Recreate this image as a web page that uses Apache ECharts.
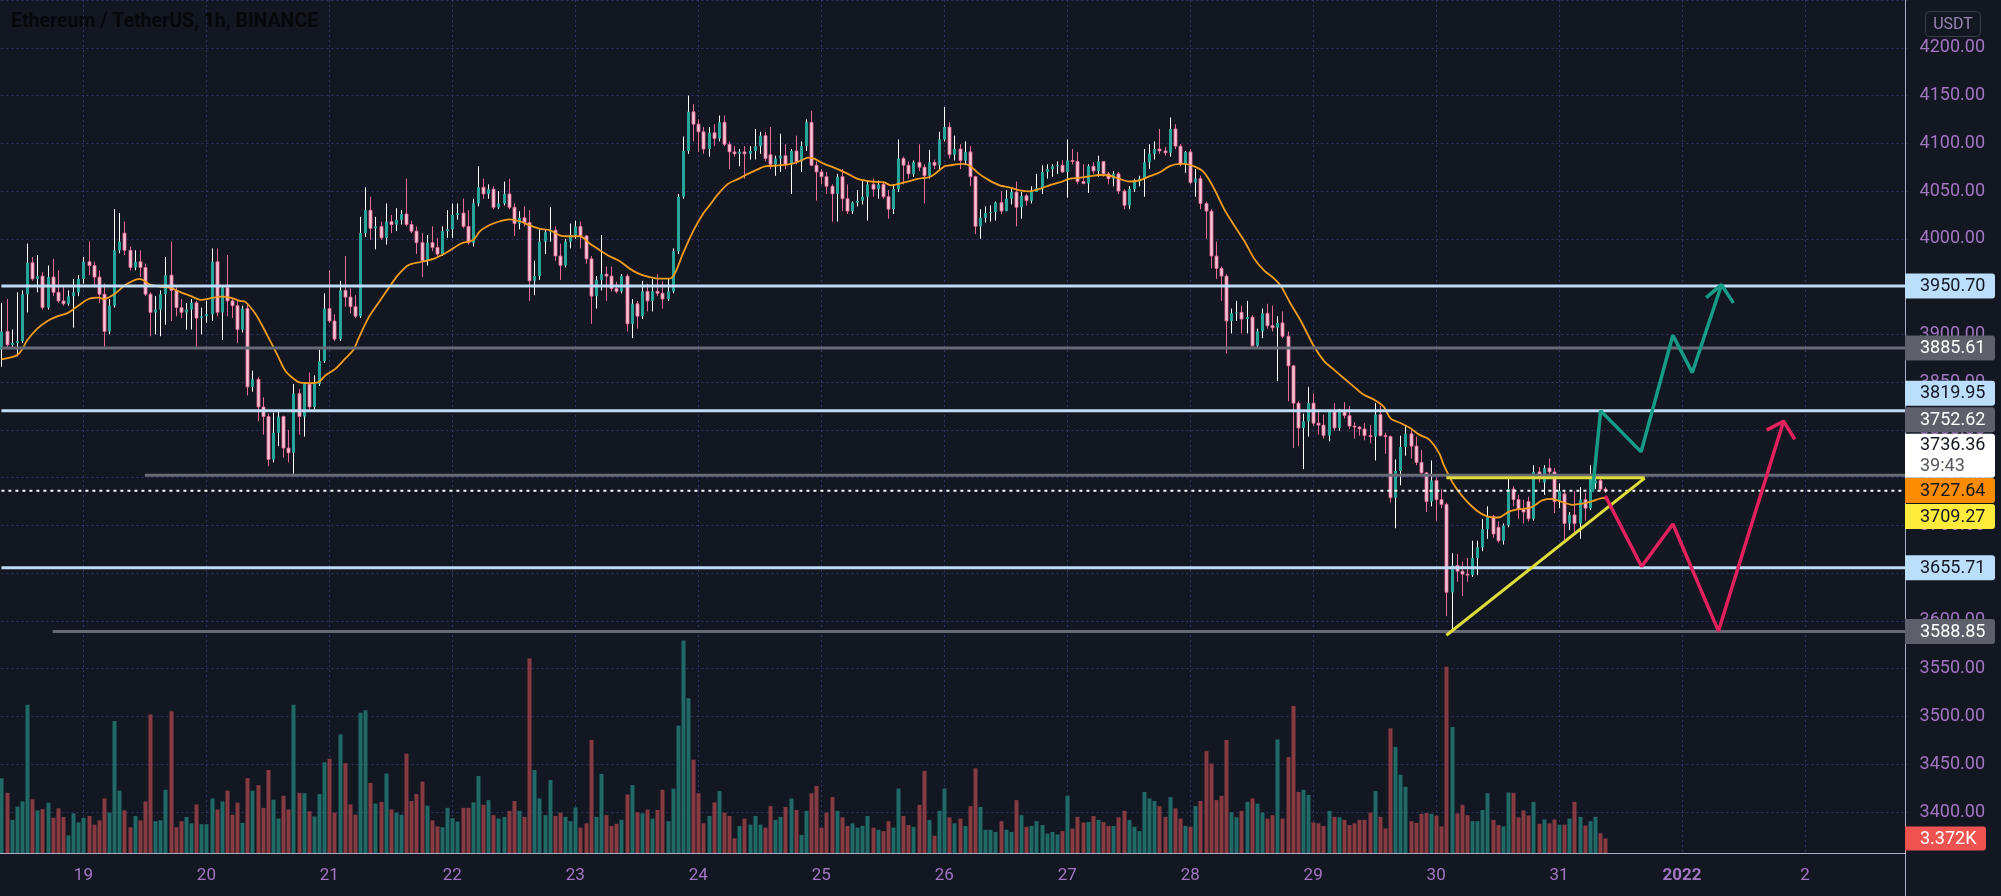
<!DOCTYPE html>
<html>
<head>
<meta charset="utf-8">
<title>Ethereum / TetherUS, 1h, BINANCE</title>
<script src="https://cdn.jsdelivr.net/npm/echarts@6/dist/echarts.min.js"></script>
<style>
html,body{margin:0;padding:0;background:#131722;overflow:hidden}
#chart{width:2001px;height:896px}
</style>
</head>
<body>
<div id="chart"></div>
<script>
// ================= DATA =================
const startTime = '2021-12-18T08:00:00Z';   // first hourly candle
const axisSlots = 373;                        // hourly slots on the time axis (0..372)
const titleText = 'Ethereum / TetherUS, 1h, BINANCE';
const currencyText = 'USDT';

// hourly candles: [open, high, low, close]
const ohlc = [
[3884,3933,3866,3903],[3903,3937,3887,3889],[3889,3905,3887,3891],[3891,3944,3877,3893],[3893,3946,3891,3942],[3942,3995,3923,3975],[3975,3981,3956,3958],[3958,3983,3944,3961],[3961,3965,3926,3928],[3928,3972,3926,3960],
[3960,3979,3940,3944],[3944,3967,3933,3935],[3935,3951,3930,3932],[3932,3946,3930,3940],[3940,3958,3907,3944],[3944,3962,3940,3958],[3958,3981,3953,3976],[3976,3997,3962,3972],[3972,3976,3949,3960],[3960,3967,3933,3942],
[3942,3953,3887,3903],[3903,3937,3900,3930],[3930,4031,3928,3988],[3988,4027,3985,3997],[4006,4018,3983,3988],[3988,3992,3967,3970],[3970,3988,3967,3976],[3976,3988,3960,3970],[3970,3974,3940,3942],[3942,3944,3898,3923],
[3923,3940,3900,3926],[3926,3946,3898,3942],[3942,3981,3910,3962],[3962,3997,3914,3946],[3946,3949,3919,3928],[3928,3937,3917,3923],[3923,3933,3905,3926],[3926,3937,3905,3933],[3933,3935,3887,3917],[3917,3928,3900,3919],
[3919,3935,3912,3921],[3921,3990,3914,3976],[3976,3990,3919,3923],[3923,3951,3894,3949],[3949,3983,3919,3935],[3935,3937,3917,3930],[3930,3936,3891,3905],[3905,3930,3902,3927],[3927,3932,3836,3845],[3845,3862,3840,3853],
[3853,3855,3809,3824],[3824,3834,3795,3814],[3814,3817,3762,3769],[3769,3818,3766,3797],[3797,3819,3783,3814],[3814,3815,3771,3781],[3781,3800,3766,3776],[3776,3848,3754,3838],[3838,3843,3795,3814],[3814,3850,3793,3848],
[3848,3860,3821,3824],[3824,3857,3821,3848],[3848,3884,3846,3872],[3872,3943,3870,3927],[3927,3967,3912,3914],[3914,3921,3893,3895],[3895,3956,3893,3946],[3946,3982,3929,3939],[3939,3948,3922,3929],[3929,3941,3917,3919],
[3919,4023,3917,4006],[4006,4054,4002,4030],[4030,4044,3999,4011],[4011,4023,3989,4013],[4013,4018,3999,4001],[4001,4037,3994,4018],[4018,4025,4006,4015],[4015,4032,4008,4020],[4020,4030,4015,4026],[4026,4063,4013,4015],
[4015,4019,4006,4008],[4008,4013,3984,3996],[3996,4006,3960,3977],[3977,4004,3972,3996],[3996,4013,3987,3991],[3991,4001,3980,3984],[3984,4013,3982,4008],[4008,4030,4001,4010],[4010,4037,4001,4025],[4025,4037,4020,4027],
[4027,4042,4011,4013],[4013,4030,3994,3996],[3996,4042,3992,4037],[4037,4076,4034,4054],[4054,4063,4042,4047],[4047,4057,4042,4052],[4052,4055,4031,4033],[4033,4050,4031,4037],[4037,4060,4035,4047],[4047,4063,4031,4033],
[4033,4037,4003,4016],[4016,4029,4010,4022],[4022,4034,4013,4017],[4017,4030,3935,3956],[3956,3977,3941,3961],[3961,4010,3957,3997],[3997,4010,3984,4007],[4007,4033,3997,4009],[4009,4013,3977,3982],[3982,3995,3957,3972],
[3972,4000,3970,3997],[3997,4016,3990,4004],[4004,4019,4000,4013],[4013,4018,3990,4003],[4003,4004,3974,3979],[3979,3982,3911,3940],[3940,3961,3927,3957],[3957,4004,3946,3963],[3963,3971,3935,3961],[3961,3971,3945,3948],
[3948,3955,3943,3945],[3945,3963,3943,3961],[3961,3963,3903,3911],[3911,3937,3896,3932],[3932,3935,3906,3919],[3919,3956,3916,3945],[3945,3953,3924,3935],[3935,3958,3924,3945],[3945,3963,3940,3943],[3943,3956,3927,3937],
[3937,3958,3935,3945],[3945,3990,3943,3987],[3987,4047,3984,4044],[4044,4107,4042,4092],[4092,4150,4089,4133],[4133,4141,4102,4120],[4120,4125,4091,4112],[4112,4117,4089,4094],[4094,4117,4086,4111],[4111,4120,4097,4105],
[4105,4129,4102,4122],[4122,4129,4097,4099],[4099,4102,4073,4091],[4091,4097,4086,4089],[4089,4094,4076,4091],[4091,4097,4063,4089],[4089,4097,4083,4092],[4092,4115,4083,4097],[4097,4112,4089,4108],[4108,4112,4081,4084],
[4088,4117,4073,4078],[4078,4087,4066,4084],[4084,4110,4070,4087],[4087,4099,4073,4078],[4078,4094,4047,4092],[4092,4108,4078,4081],[4081,4102,4070,4097],[4097,4125,4092,4122],[4122,4134,4076,4077],[4077,4081,4040,4070],
[4070,4073,4057,4065],[4065,4070,4047,4055],[4055,4057,4018,4047],[4047,4068,4018,4065],[4065,4073,4029,4042],[4042,4057,4026,4029],[4029,4039,4026,4038],[4038,4051,4034,4040],[4040,4061,4036,4044],[4044,4061,4019,4057],
[4057,4063,4044,4052],[4052,4061,4042,4057],[4057,4060,4042,4044],[4044,4051,4021,4031],[4031,4057,4026,4052],[4052,4104,4049,4084],[4084,4086,4057,4077],[4077,4081,4063,4068],[4068,4082,4065,4080],[4080,4099,4071,4075],
[4075,4078,4037,4066],[4066,4093,4063,4080],[4080,4083,4073,4077],[4077,4112,4073,4104],[4104,4138,4102,4117],[4117,4122,4084,4088],[4088,4108,4082,4094],[4094,4099,4073,4082],[4082,4102,4077,4091],[4091,4097,4055,4065],
[4065,4066,4005,4013],[4013,4031,4000,4022],[4022,4034,4017,4027],[4027,4035,4018,4028],[4028,4039,4019,4038],[4038,4050,4026,4029],[4029,4051,4029,4042],[4042,4052,4036,4049],[4049,4060,4013,4033],[4033,4049,4021,4045],
[4045,4047,4035,4040],[4040,4055,4037,4049],[4049,4068,4049,4053],[4053,4077,4047,4070],[4070,4078,4063,4073],[4073,4078,4065,4076],[4076,4081,4068,4077],[4077,4082,4069,4070],[4070,4104,4043,4082],[4082,4094,4078,4081],
[4081,4091,4057,4060],[4060,4078,4057,4058],[4058,4078,4048,4076],[4076,4080,4068,4071],[4071,4087,4065,4081],[4081,4081,4065,4068],[4068,4070,4057,4063],[4063,4071,4055,4068],[4068,4070,4047,4050],[4050,4052,4031,4035],
[4035,4055,4031,4052],[4052,4063,4049,4060],[4060,4066,4055,4063],[4063,4094,4044,4080],[4080,4099,4073,4089],[4089,4102,4083,4094],[4094,4115,4089,4092],[4092,4096,4087,4090],[4090,4127,4086,4115],[4115,4120,4094,4097],
[4097,4099,4076,4078],[4078,4092,4069,4091],[4091,4094,4057,4059],[4059,4073,4044,4063],[4063,4066,4031,4037],[4037,4039,4000,4029],[4029,4031,3969,3982],[3982,3997,3958,3969],[3969,3971,3935,3961],[3961,3963,3880,3914],
[3914,3927,3901,3922],[3922,3935,3914,3923],[3923,3930,3901,3916],[3916,3935,3901,3918],[3918,3920,3885,3888],[3888,3906,3885,3903],[3903,3927,3896,3922],[3922,3932,3906,3909],[3909,3930,3903,3907],[3907,3919,3851,3912],
[3912,3924,3896,3898],[3898,3903,3830,3867],[3867,3868,3781,3828],[3828,3830,3783,3802],[3802,3817,3759,3809],[3809,3845,3793,3828],[3828,3838,3804,3807],[3807,3819,3795,3805],[3805,3816,3791,3794],[3794,3821,3788,3819],
[3819,3828,3799,3802],[3802,3822,3799,3819],[3819,3829,3812,3815],[3815,3825,3801,3804],[3804,3808,3791,3803],[3803,3804,3794,3801],[3801,3807,3789,3794],[3794,3805,3786,3793],[3793,3828,3768,3816],[3816,3825,3793,3794],
[3794,3797,3775,3793],[3793,3794,3724,3729],[3729,3769,3697,3757],[3757,3794,3742,3782],[3782,3804,3773,3796],[3796,3801,3770,3783],[3783,3793,3763,3766],[3766,3779,3752,3755],[3755,3756,3714,3725],[3725,3768,3720,3747],
[3747,3750,3705,3727],[3727,3738,3718,3722],[3722,3724,3605,3630],[3630,3671,3588.5,3658],[3658,3670,3641,3652],[3652,3662,3626,3649],[3649,3666,3641,3648],[3648,3684,3646,3666],[3666,3684,3648,3677],[3677,3707,3673,3696],
[3696,3720,3686,3709],[3709,3711,3687,3691],[3698,3704,3682,3684],[3684,3702,3680,3700],[3700,3749,3698,3738],[3738,3741,3720,3727],[3727,3732,3707,3717],[3717,3727,3702,3714],[3725,3730,3704,3707],[3707,3763,3705,3756],
[3756,3761,3745,3749],[3745,3763,3732,3760],[3760,3770,3749,3756],[3756,3760,3713,3725],[3725,3744,3718,3736],[3733,3736,3684,3702],[3702,3714,3695,3711],[3711,3736,3691,3702],[3702,3740,3686,3727],[3727,3734,3705,3718],
[3718,3763,3716,3750],[3744,3761,3738,3747],[3747,3749,3736,3738],[3738,3740,3734,3736.36]
];

// hourly volume, thousands of ETH
const volumeK = [
17.4,14.0,7.7,10.8,12.0,34.5,12.5,9.9,10.2,11.7,
8.2,10.4,8.4,4.1,9.2,7.1,8.2,8.6,6.6,7.6,
12.7,9.4,30.7,14.5,9.9,6.0,8.6,7.6,12.0,32.2,
7.4,7.6,14.7,33.0,6.0,7.4,8.4,6.9,11.3,6.7,
6.7,12.7,10.1,12.0,14.5,8.9,11.7,7.0,17.4,14.5,
15.8,10.5,19.3,12.4,8.0,13.3,10.1,34.5,14.0,13.9,
9.7,8.5,13.7,21.1,21.9,9.4,27.6,20.9,11.3,8.9,
32.6,33.2,16.3,11.5,11.9,18.5,10.1,9.4,8.9,23.1,
12.1,13.7,16.6,11.0,7.6,6.2,6.0,10.5,8.1,7.3,
10.5,10.5,11.8,17.9,11.2,12.3,8.8,8.0,8.4,9.8,
12.1,9.8,8.4,45.3,19.3,12.7,8.8,17.0,8.6,9.4,
8.4,7.4,10.6,5.9,6.9,26.3,8.4,18.4,8.8,6.3,
6.8,7.7,13.6,15.8,9.5,9.2,10.1,8.0,10.0,14.7,
7.4,15.0,29.6,49.4,36.0,21.7,13.9,6.9,8.6,11.8,
14.4,9.4,8.6,3.4,6.3,8.0,6.6,8.6,6.6,5.9,
10.9,7.7,8.4,10.7,12.7,10.0,4.2,9.8,13.9,15.6,
5.9,9.4,13.0,9.8,8.3,6.3,6.9,5.9,6.3,8.6,
5.9,5.4,5.1,7.4,5.9,15.0,8.6,6.5,6.1,11.2,
19.1,7.7,4.0,9.8,15.0,8.3,6.9,8.0,6.3,10.9,
19.7,10.7,5.4,5.4,4.9,7.4,5.4,4.9,12.3,8.8,
6.1,6.3,7.4,6.5,4.5,4.9,4.3,5.1,13.3,5.7,
8.4,7.1,7.2,8.6,7.7,7.2,6.3,6.3,8.3,9.8,
7.7,6.1,5.1,14.2,12.7,12.1,10.9,8.4,13.0,10.4,
8.0,6.3,6.1,10.9,12.1,23.7,20.8,12.3,13.3,26.3,
9.5,8.3,9.8,11.9,12.7,11.5,9.4,8.0,8.8,26.4,
8.0,22.3,34.2,14.2,14.7,13.5,7.1,6.9,6.3,9.8,
8.4,8.3,7.7,6.5,6.9,7.7,7.7,9.4,14.4,8.4,
5.7,29.0,24.7,18.2,15.4,7.4,7.0,9.1,9.3,9.1,
8.7,6.2,43.3,29.3,9.2,11.2,8.8,7.4,7.4,10.0,
13.9,7.7,6.5,6.2,14.1,14.0,8.3,9.9,8.7,11.9,
6.8,7.8,6.9,7.8,6.6,6.6,8.0,11.9,8.4,6.4,
7.4,8.4,4.6,3.372
];

// orange moving-average line: [hour index, price]
const emaPoints = [
[0,3873.7],[3,3878],[4,3884],[5,3893.5],[7,3906],[9,3914],[11,3919],[13,3922.5],[15,3930],[17,3937],[19,3938.5],[20,3937],[22,3942],[24,3951],[25.5,3955.6],[27,3958],[29,3952],[31,3950],[33,3948.7],[35,3944],[37,3940],[39,3936],[41,3938],[43,3939.5],[45,3938],[46.5,3935],
[47.6,3934],[49.5,3922],[50.8,3910],[52.2,3895.7],[53.8,3879],[55.4,3862],[56.7,3855],[58,3850],[60,3849],[61.9,3850],[63.2,3857],[65.1,3863.6],[67,3874],[68.7,3883.8],[69.7,3895.7],[71.6,3917],[73.6,3933],[75.5,3948],[77.5,3962.7],[79.4,3972.4],[82,3976],[84.6,3979.6],[87.2,3986.7],[89.8,3995.4],[92.1,3998.8],
[93.4,4008],[95.4,4014.7],[97.3,4018.4],[99.2,4020.4],[101.2,4018.4],[103.1,4014],[105.1,4010.5],[107,4009],[109,4003.7],[110.9,4002.7],[112.9,4002.7],[114.8,3995],[116.8,3988],[118.7,3981.8],[120.7,3976.6],[122.6,3968.8],[124.6,3963],[126.5,3960],[128.5,3958.3],[130.4,3958.3],[131.4,3963.5],[133,3984.4],[135,4008],[136.9,4026],[138.2,4035],
[139.9,4047],[141.8,4057.5],[143.8,4062.7],[145.7,4068],[147.7,4073],[149,4075.8],[151.6,4076.8],[154.2,4078.4],[156.1,4082],[157.4,4085],[158.7,4083.6],[160.6,4078.4],[163.2,4073],[165.2,4068],[167.1,4062.7],[169.7,4060],[172.3,4059],[173.6,4056],[176.2,4059],[178.8,4062.7],[181.4,4065.3],[184,4075.8],
[185,4076.8],[187.6,4078.4],[188.9,4076.8],[190.8,4068],[192.8,4061.2],[194.8,4056],[196.7,4053.8],[198.7,4050.7],[200.6,4049.7],[202.6,4052.2],[204.5,4056],[206.5,4059],[208.4,4062.7],[210.4,4063.8],[212.3,4065.3],[214.3,4066.8],[216.2,4066.3],[218.2,4062.7],[220.1,4060],[222.1,4061.2],[224,4065.3],[226,4069.4],[227.9,4075.8],[229.9,4078.4],
[230.8,4078.4],[232.8,4075.8],[234.7,4069.5],[236.7,4052.2],[238.6,4031.4],[240.6,4014],[242.6,3997.5],[244.5,3979.2],[246.4,3967],[248.4,3958.3],[249.7,3950.5],[251.6,3932],[253.6,3914],[256.1,3888],[258.1,3872.3],[260.1,3862.8],[262,3854],[264,3845],[265.9,3836.7],[267.9,3831.5],[269.8,3824],[271.1,3812],[273.1,3807],[275,3801.7],
[276.6,3795.3],[278.6,3790],[280.6,3775.5],[281.5,3763],[283.2,3745],[285.1,3730.6],[287,3719.8],[288.7,3712.6],[290.3,3709],[292.2,3708.3],[294.2,3714.4],[296.1,3717],[298.1,3718],[299.4,3721.6],[300.7,3726.3],[302.6,3727.7],[304.6,3724.5],[306.5,3721.6],[308.5,3722.7],[310.4,3725.2],[312.7,3728.8],[313,3727.64]
];

// horizontal levels drawn on the chart
const levelValues = [3950.70, 3885.61, 3819.95, 3752.62, 3655.71, 3588.85];
const levelStart  = [0, 0, 0, 28, 0, 10];            // hour index where each level begins
const levelKinds  = ['blue', 'gray', 'blue', 'gray', 'blue', 'gray'];

const lastPrice = 3736.36;
const countdown = '39:43';
const emaLast = 3727.64;
const yellowValue = 3709.27;
const lastVolumeK = 3.372;

// price scale badges on the right axis
const badgeValues = [3950.70, 3885.61, 3819.95, 3752.62, 3736.36, 3727.64, 3709.27, 3655.71, 3588.85];
const badgeKinds  = ['blue', 'gray', 'blue', 'gray', 'last', 'ema', 'yellow', 'blue', 'gray'];

// hand-drawn projection paths: [hour index, price]
const triangleTop  = [[282, 3750], [320.7, 3750]];
const triangleBase = [[282, 3585], [320.7, 3749.5]];
const greenPath = [[310.5, 3735], [312.1, 3820], [320, 3777], [326.2, 3899], [330, 3860], [335.7, 3952]];
const greenHead = [[332.7, 3938.5], [335.7, 3952], [338, 3933]];
const pinkPath  = [[313, 3731], [320.1, 3657], [326.2, 3701.5], [335.1, 3589.4], [347.8, 3809]];
const pinkHead  = [[344.5, 3799.7], [347.8, 3809], [350, 3790]];

// ================= STYLE =================
const BG = '#131722';
const UP = '#26a69a', UP_WICK = '#ffffff';
const DN = '#f7c4d6', DN_EDGE = '#ec6a96';
const VOL_UP = '#1f6a66', VOL_DN = '#873a41';
const GRID_COL = '#30346a';
const AXIS_TXT = '#a276c2';
const LEVEL_COL = { blue: '#bedcf6', gray: '#686b76' };
const BADGE = {
  blue:   { fill: '#bbdefb', text: '#131722' },
  gray:   { fill: '#5d606b', text: '#ffffff' },
  last:   { fill: '#ffffff', text: '#131722' },
  ema:    { fill: '#fb8c00', text: '#131722' },
  yellow: { fill: '#ffeb3b', text: '#131722' }
};
const BADGE_SHIFT = [0, 0, -17.6, -55.4, -35, -8.4, 0, 0, 0]; // px, to avoid overlap as on TradingView
const FONT = 'Roboto, "Liberation Sans", Arial, sans-serif';
const AXIS_X = 1905;

// ================= BUILD =================
const t0 = Date.parse(startTime);
const cats = [];
for (let i = 0; i < axisSlots; i++) cats.push(new Date(t0 + i * 3600000).toISOString().slice(0, 13));
const isMidnight = (i) => cats[i] && cats[i].endsWith('T00');
function dayText(v) {
  const d = new Date(v + ':00:00Z');
  if (d.getUTCMonth() === 0 && d.getUTCDate() === 1) return '{y|' + d.getUTCFullYear() + '}';
  return String(d.getUTCDate());
}

const candleData = ohlc.map((r, i) => [i, r[0], r[1], r[2], r[3]]);
const volData = volumeK.map((v, i) => [i, v, ohlc[i][3] >= ohlc[i][0] ? 1 : 0]);

function renderCandle(params, api) {
  const i = api.value(0), o = api.value(1), h = api.value(2), l = api.value(3), c = api.value(4);
  const pO = api.coord([i, o]), pC = api.coord([i, c]), pH = api.coord([i, h]), pL = api.coord([i, l]);
  const xi = Math.round(pO[0]);
  const up = c >= o;
  const top = Math.min(pO[1], pC[1]);
  const hgt = Math.max(Math.abs(pO[1] - pC[1]), 1);
  return {
    type: 'group',
    children: [
      { type: 'line', shape: { x1: xi + 0.5, y1: pH[1], x2: xi + 0.5, y2: pL[1] },
        style: { stroke: up ? UP_WICK : DN_EDGE, lineWidth: 1 } },
      { type: 'rect', shape: { x: xi - 1, y: top, width: 3, height: hgt },
        style: { fill: up ? UP : DN, stroke: up ? UP : DN_EDGE, lineWidth: up ? 0 : 0.8 } }
    ]
  };
}

function renderVolume(params, api) {
  const i = api.value(0), v = api.value(1), up = api.value(2);
  const p = api.coord([i, v]), p0 = api.coord([i, 0]);
  const xi = Math.round(p[0]);
  return { type: 'rect', shape: { x: xi - 1.5, y: p[1], width: 4, height: p0[1] - p[1] },
           style: { fill: up ? VOL_UP : VOL_DN } };
}

function renderBadge(params, api) {
  const idx = params.dataIndex;
  const v = api.value(1);
  const kind = badgeKinds[idx];
  const st = BADGE[kind];
  const y = api.coord([0, v])[1] + BADGE_SHIFT[idx];
  const two = kind === 'last';
  const h = two ? 44 : 25;
  const children = [
    { type: 'rect', shape: { x: AXIS_X, y: y - h / 2, width: 90, height: h, r: [0, 3, 3, 0] }, style: { fill: st.fill } },
    { type: 'text', style: { text: v.toFixed(2), x: AXIS_X + 15, y: two ? y - 10 : y + 0.5, fill: st.text,
        font: '18px ' + FONT, textVerticalAlign: 'middle', textAlign: 'left' } }
  ];
  if (two) children.push({ type: 'text', style: { text: countdown, x: AXIS_X + 15, y: y + 11, fill: '#555861',
        font: '18px ' + FONT, textVerticalAlign: 'middle', textAlign: 'left' } });
  return { type: 'group', children };
}

function renderVolBadge(params, api) {
  const v = api.value(1);
  const y = api.coord([0, v])[1];
  return { type: 'group', children: [
    { type: 'rect', shape: { x: AXIS_X, y: y - 12, width: 81, height: 24, r: [0, 3, 3, 0] }, style: { fill: '#ef5350' } },
    { type: 'text', style: { text: v.toFixed(3) + 'K', x: AXIS_X + 15, y: y + 0.5, fill: '#ffffff',
        font: '18px ' + FONT, textVerticalAlign: 'middle' } }
  ]};
}

const lineBase = { type: 'line', xAxisIndex: 0, yAxisIndex: 0, symbol: 'none', silent: true, animation: false };

const series = [
  { type: 'custom', name: 'Volume', xAxisIndex: 2, yAxisIndex: 1, data: volData, renderItem: renderVolume,
    encode: { x: 0, y: 1 }, z: 1, silent: true },
  { type: 'custom', name: 'ETHUSDT', xAxisIndex: 0, yAxisIndex: 0, data: candleData, renderItem: renderCandle,
    encode: { x: 0, y: [1, 2, 3, 4] }, z: 2, silent: true },
  Object.assign({}, lineBase, { name: 'MA', data: emaPoints, smooth: 0.3, z: 3,
    lineStyle: { color: '#f59d1e', width: 1.8 } })
];
levelValues.forEach((v, i) => {
  series.push(Object.assign({}, lineBase, { name: 'level' + i, data: [[levelStart[i], v], [axisSlots - 1, v]], z: 4,
    lineStyle: { color: LEVEL_COL[levelKinds[i]], width: 3 } }));
});
series.push(Object.assign({}, lineBase, { name: 'last', data: [[0, lastPrice], [axisSlots - 1, lastPrice]], z: 5,
  lineStyle: { color: '#ffffff', width: 2, type: [3, 4] } }));
series.push(Object.assign({}, lineBase, { name: 'triTop', data: triangleTop, z: 6, lineStyle: { color: '#dedd3c', width: 3 } }));
series.push(Object.assign({}, lineBase, { name: 'triBase', data: triangleBase, z: 6, lineStyle: { color: '#dedd3c', width: 3 } }));
series.push(Object.assign({}, lineBase, { name: 'green', data: greenPath, z: 7, lineStyle: { color: '#159c86', width: 3.5 } }));
series.push(Object.assign({}, lineBase, { name: 'greenHead', data: greenHead, z: 7, lineStyle: { color: '#159c86', width: 3.5 } }));
series.push(Object.assign({}, lineBase, { name: 'pink', data: pinkPath, z: 7, lineStyle: { color: '#e3215f', width: 3.5 } }));
series.push(Object.assign({}, lineBase, { name: 'pinkHead', data: pinkHead, z: 7, lineStyle: { color: '#e3215f', width: 3.5 } }));
series.push({ type: 'custom', name: 'badges', xAxisIndex: 0, yAxisIndex: 0, clip: false,
  data: badgeValues.map(v => [0, v]), renderItem: renderBadge, encode: { x: 0, y: 1 }, z: 20, silent: true });
series.push({ type: 'custom', name: 'volBadge', xAxisIndex: 2, yAxisIndex: 1, clip: false,
  data: [[0, lastVolumeK]], renderItem: renderVolBadge, encode: { x: 0, y: 1 }, z: 20, silent: true });

const GRID_LEFT = 1.42, GRID_W = 1906.13;
const option = {
  backgroundColor: BG,
  animation: false,
  grid: [
    { left: GRID_LEFT, top: -1.875, width: GRID_W, height: 813.875 },
    { left: GRID_LEFT, top: 0, width: GRID_W, height: 853 }
  ],
  xAxis: [
    { type: 'value', gridIndex: 0, min: 0, max: axisSlots - 1, show: false },
    { type: 'category', gridIndex: 1, data: cats, boundaryGap: false,
      axisLine: { show: false }, axisTick: { show: false },
      axisLabel: { interval: (i) => isMidnight(i), formatter: dayText, color: AXIS_TXT, fontSize: 17,
        fontFamily: FONT, margin: 14, rich: { y: { fontWeight: 'bold', fontSize: 17, color: AXIS_TXT, fontFamily: FONT } } },
      splitLine: { show: true, interval: (i) => isMidnight(i), lineStyle: { color: GRID_COL, type: [2, 3], width: 1 } } },
    { type: 'value', gridIndex: 1, min: 0, max: axisSlots - 1, show: false }
  ],
  yAxis: [
    { type: 'value', gridIndex: 0, position: 'right', min: 3400, max: 4250, interval: 50,
      axisLine: { show: false }, axisTick: { show: false },
      axisLabel: { color: AXIS_TXT, fontSize: 18, fontFamily: FONT, margin: 12,
        formatter: (v) => v > 4200 ? '' : v.toFixed(2) },
      splitLine: { show: true, lineStyle: { color: GRID_COL, type: [2, 3], width: 1 } } },
    { type: 'value', gridIndex: 1, min: 0, max: 198.41, show: false }
  ],
  graphic: [
    { type: 'line', z: 15, shape: { x1: AXIS_X + 0.5, y1: 0, x2: AXIS_X + 0.5, y2: 896 }, style: { stroke: '#a9acc4', lineWidth: 1 } },
    { type: 'line', z: 15, shape: { x1: 0, y1: 853.5, x2: AXIS_X, y2: 853.5 }, style: { stroke: '#a9acc4', lineWidth: 1 } },
    { type: 'text', z: 15, left: 11, top: 12, style: { text: titleText, fill: '#07080c', font: 'bold 19.5px ' + FONT } },
    { type: 'rect', z: 15, shape: { x: 1925.5, y: 11.5, width: 55, height: 25, r: 4 }, style: { fill: 'none', stroke: '#3b3e4a', lineWidth: 1 } },
    { type: 'text', z: 15, style: { text: currencyText, x: 1953, y: 24.5, fill: '#9a86b2', font: '16px ' + FONT,
        textAlign: 'center', textVerticalAlign: 'middle' } }
  ],
  series
};

const chart = echarts.init(document.getElementById('chart'), null, { renderer: 'canvas' });
chart.setOption(option);
</script>
</body>
</html>
